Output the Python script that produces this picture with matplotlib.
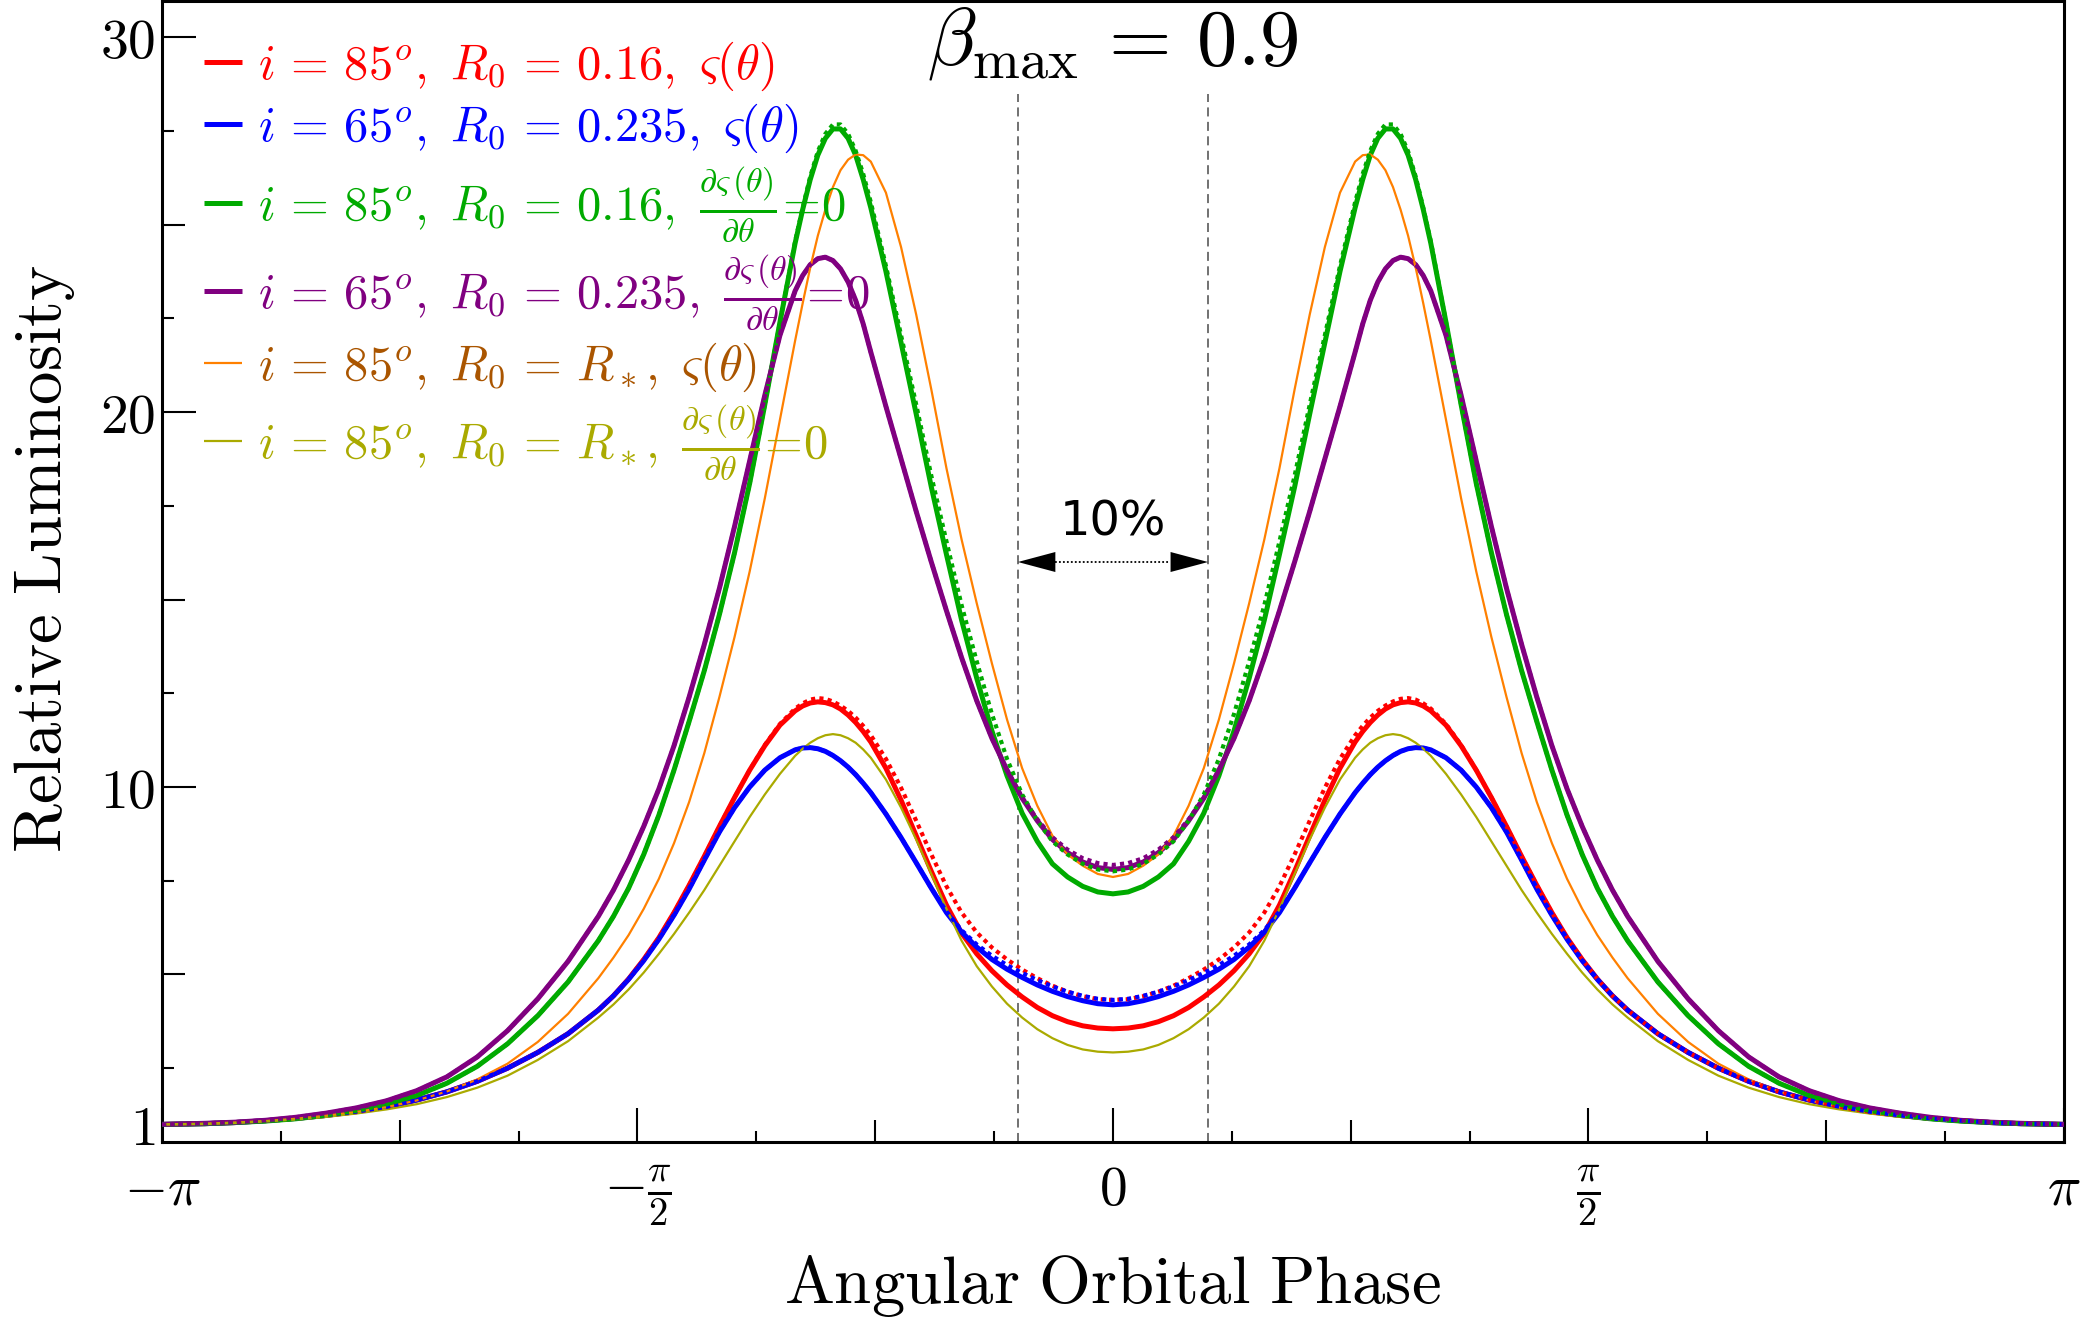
import numpy as np
import matplotlib.pyplot as plt

plt.rcParams['mathtext.fontset'] = 'cm'

# orbital phase (rad) for the right half; every curve is mirror symmetric about 0
phase = [0, 0.05, 0.1, 0.15, 0.2, 0.25, 0.3, 0.35, 0.4, 0.45, 0.5, 0.55, 0.6, 0.65,
         0.7, 0.75, 0.8, 0.825, 0.85, 0.875, 0.9, 0.925, 0.95, 0.975, 1.0, 1.025,
         1.05, 1.1, 1.15, 1.2, 1.25, 1.3, 1.35, 1.4, 1.45, 1.5, 1.55, 1.6, 1.65,
         1.7, 1.8, 1.9, 2.0, 2.1, 2.2, 2.3, 2.4, 2.5, 2.6, 2.7, 2.8, 2.9, 3.0, np.pi]

red = [3.55, 3.57, 3.63, 3.74, 3.9, 4.12, 4.4, 4.72, 5.1, 5.55, 6.1, 6.85, 7.75, 8.7,
       9.65, 10.5, 11.2, 11.48, 11.72, 11.92, 12.08, 12.19, 12.25, 12.27, 12.24, 12.16,
       12.03, 11.65, 11.1, 10.45, 9.72, 8.95, 8.15, 7.38, 6.65, 5.98, 5.4, 4.88, 4.43,
       4.05, 3.42, 2.92, 2.5, 2.15, 1.87, 1.65, 1.47, 1.34, 1.24, 1.16, 1.1, 1.05, 1.02, 1.0]
red_dot = [4.32, 4.34, 4.42, 4.54, 4.7, 4.9, 5.13, 5.4, 5.72, 6.12, 6.65, 7.35, 8.2, 9.1,
           9.98, 10.75, 11.38, 11.63, 11.85, 12.03, 12.17, 12.28, 12.35, 12.37, 12.33, 12.23,
           12.09, 11.68, 11.12, 10.45, 9.72, 8.95, 8.15, 7.38, 6.65, 5.98, 5.4, 4.88, 4.43,
           4.05, 3.42, 2.92, 2.5, 2.15, 1.87, 1.65, 1.47, 1.34, 1.24, 1.16, 1.1, 1.05, 1.02, 1.0]
blue = [4.19, 4.22, 4.3, 4.41, 4.55, 4.72, 4.92, 5.14, 5.4, 5.73, 6.13, 6.65, 7.3, 7.98,
        8.65, 9.28, 9.85, 10.1, 10.33, 10.53, 10.7, 10.84, 10.95, 11.02, 11.05, 11.04,
        10.99, 10.78, 10.45, 10.0, 9.45, 8.8, 8.05, 7.28, 6.58, 5.94, 5.37, 4.87, 4.43,
        4.05, 3.42, 2.92, 2.5, 2.15, 1.87, 1.65, 1.47, 1.34, 1.24, 1.16, 1.1, 1.05, 1.02, 1.0]
blue_dot = [4.32, 4.35, 4.43, 4.54, 4.68, 4.85, 5.04, 5.25, 5.5, 5.8, 6.18, 6.68, 7.3, 7.98,
            8.65, 9.28, 9.85, 10.1, 10.33, 10.53, 10.7, 10.84, 10.95, 11.02, 11.05, 11.04,
            10.99, 10.78, 10.45, 10.0, 9.45, 8.8, 8.05, 7.28, 6.58, 5.94, 5.37, 4.87, 4.43,
            4.05, 3.42, 2.92, 2.5, 2.15, 1.87, 1.65, 1.47, 1.34, 1.24, 1.16, 1.1, 1.05, 1.02, 1.0]
green = [7.15, 7.2, 7.35, 7.6, 7.95, 8.55, 9.3, 10.3, 11.5, 12.9, 14.45, 16.2, 18.0, 19.95,
         21.85, 23.75, 25.45, 26.2, 26.85, 27.3, 27.55, 27.55, 27.3, 26.85, 26.2, 25.4,
         24.5, 22.4, 20.2, 18.1, 16.25, 14.6, 13.1, 11.75, 10.45, 9.25, 8.2, 7.3, 6.55,
         5.9, 4.8, 3.9, 3.15, 2.55, 2.1, 1.77, 1.53, 1.36, 1.24, 1.15, 1.09, 1.05, 1.02, 1.0]
green_dot = [7.75, 7.8, 7.95, 8.2, 8.55, 9.1, 9.8, 10.75, 11.95, 13.35, 14.85, 16.55, 18.3, 20.2,
             22.05, 23.9, 25.6, 26.35, 26.97, 27.42, 27.67, 27.67, 27.42, 26.95, 26.28, 25.45,
             24.55, 22.4, 20.2, 18.1, 16.25, 14.6, 13.1, 11.75, 10.45, 9.25, 8.2, 7.3, 6.55,
             5.9, 4.8, 3.9, 3.15, 2.55, 2.1, 1.77, 1.53, 1.36, 1.24, 1.15, 1.09, 1.05, 1.02, 1.0]
purple = [7.8, 7.85, 8.0, 8.25, 8.6, 9.1, 9.7, 10.45, 11.3, 12.3, 13.45, 14.7, 16.0, 17.35,
          18.75, 20.15, 21.6, 22.35, 22.98, 23.47, 23.82, 24.04, 24.13, 24.09, 23.93, 23.64,
          23.23, 22.05, 20.45, 18.7, 16.95, 15.3, 13.8, 12.4, 11.1, 9.95, 8.95, 8.05, 7.25,
          6.55, 5.35, 4.35, 3.5, 2.8, 2.27, 1.9, 1.63, 1.44, 1.3, 1.19, 1.11, 1.06, 1.03, 1.0]
purple_dot = [7.92, 7.97, 8.1, 8.33, 8.66, 9.14, 9.72, 10.45, 11.3, 12.3, 13.45, 14.7, 16.0, 17.35,
              18.75, 20.15, 21.6, 22.35, 22.98, 23.47, 23.82, 24.04, 24.13, 24.09, 23.93, 23.64,
              23.23, 22.05, 20.45, 18.7, 16.95, 15.3, 13.8, 12.4, 11.1, 9.95, 8.95, 8.05, 7.25,
              6.55, 5.35, 4.35, 3.5, 2.8, 2.27, 1.9, 1.63, 1.44, 1.3, 1.19, 1.11, 1.06, 1.03, 1.0]
orange = [7.6, 7.68, 7.9, 8.2, 8.7, 9.5, 10.5, 11.8, 13.3, 14.9, 16.6, 18.5, 20.6, 22.6,
          24.4, 25.85, 26.68, 26.85, 26.87, 26.73, 26.45, 26.0, 25.4, 24.7, 23.85, 22.9,
          21.9, 19.8, 17.7, 15.75, 14.0, 12.4, 10.9, 9.6, 8.5, 7.55, 6.75, 6.05, 5.45,
          4.9, 3.95, 3.2, 2.62, 2.2, 1.88, 1.64, 1.46, 1.33, 1.23, 1.15, 1.09, 1.05, 1.02, 1.0]
olive = [2.92, 2.94, 3.0, 3.12, 3.3, 3.54, 3.85, 4.22, 4.68, 5.22, 5.9, 6.75, 7.68, 8.6,
         9.45, 10.2, 10.78, 11.0, 11.18, 11.3, 11.38, 11.41, 11.38, 11.3, 11.18, 11.02,
         10.83, 10.35, 9.8, 9.2, 8.55, 7.9, 7.25, 6.65, 6.08, 5.55, 5.05, 4.6, 4.2,
         3.85, 3.22, 2.72, 2.3, 1.98, 1.73, 1.54, 1.4, 1.29, 1.2, 1.13, 1.08, 1.04, 1.01, 1.0]

labels = [
    r'$i\,=\,85^o,\ R_0\,=\,0.16,\ \varsigma(\theta)$',
    r'$i\,=\,65^o,\ R_0\,=\,0.235,\ \varsigma(\theta)$',
    r'$i\,=\,85^o,\ R_0\,=\,0.16,\ \frac{\partial\varsigma\,(\theta)}{\partial\theta}\!=\!0$',
    r'$i\,=\,65^o,\ R_0\,=\,0.235,\ \frac{\partial\varsigma\,(\theta)}{\partial\theta}\!=\!0$',
    r'$i\,=\,85^o,\ R_0\,=\,R_*,\ \varsigma(\theta)$',
    r'$i\,=\,85^o,\ R_0\,=\,R_*,\ \frac{\partial\varsigma\,(\theta)}{\partial\theta}\!=\!0$',
]
label_colors = ['#ff0000', '#0000ff', '#00aa00', '#800080', '#aa5500', '#aaaa00']

window = 0.1 * np.pi      # +-10% of the orbit
arrow_y = 16.0


def mirror(vals):
    v = np.asarray(vals, dtype=float)
    return np.concatenate([v[:0:-1], v])


x = np.concatenate([-np.asarray(phase[:0:-1]), np.asarray(phase)])

fig = plt.figure(figsize=(20.84, 13.30), dpi=100)
ax = fig.add_axes([0.0777, 0.1414, 0.9127, 0.8575])

thick = 3.6
thin = 1.6
solid = [
    (red, '#ff0000', thick),
    (blue, '#0000ff', thick),
    (green, '#00aa00', thick),
    (purple, '#800080', thick),
    (orange, '#ff8000', thin),
    (olive, '#aaaa00', thin),
]
handles = []
for vals, c, lw in solid:
    h, = ax.plot(x, mirror(vals), color=c, lw=lw, solid_capstyle='butt',
                 solid_joinstyle='round', zorder=3)
    handles.append(h)

for vals, c in [(red_dot, '#ff0000'), (blue_dot, '#0000ff'),
                (green_dot, '#00aa00'), (purple_dot, '#800080')]:
    ax.plot(x, mirror(vals), color=c, lw=3.0, ls=(0, (1, 1)),
            dash_capstyle='butt', zorder=4)

ax.set_xlim(-np.pi, np.pi)
ax.set_ylim(0.533, 30.95)

# 10% window markers
ax.vlines([-window, window], 0.533, 28.48, colors='#666666',
          linestyles=(0, (5, 3)), lw=1.3, zorder=2)
for xt in (-window, window):
    ax.annotate('', xy=(xt, arrow_y), xytext=(0, arrow_y),
                arrowprops=dict(arrowstyle='-|>,head_length=1.35,head_width=0.36',
                                mutation_scale=20, lw=0, fc='k', ec='k',
                                shrinkA=0, shrinkB=0))
ax.plot([-0.19, 0.19], [arrow_y, arrow_y], color='k', lw=1.3, ls=(0, (1, 1.2)))
ax.text(0, 16.72, '10%', ha='center', va='baseline', fontsize=34.5,
        family='DejaVu Sans')

ax.text(0.5, 0.945, r'$\beta_{\mathrm{max}}\,=\,0.9$', transform=ax.transAxes,
        ha='center', va='baseline', fontsize=58)

# ticks
ax.set_xticks([-np.pi, -np.pi / 2, 0, np.pi / 2, np.pi])
ax.set_xticklabels([r'$-\pi$', r'$-\frac{\pi}{2}$', r'$0$', r'$\frac{\pi}{2}$', r'$\pi$'])
xminor_k = [k for k in range(-7, 8) if k % 4 != 0]
ax.set_xticks([k * np.pi / 8 for k in xminor_k], minor=True)
ax.set_yticks([1, 10, 20, 30])
ax.set_yticklabels([r'$1$', r'$10$', r'$20$', r'$30$'])
yminor = [2.5, 5, 7.5, 12.5, 15, 17.5, 22.5, 25, 27.5]
ax.set_yticks(yminor, minor=True)

ax.tick_params(which='both', direction='in', top=False, right=False, width=1.5)
ax.tick_params(which='major', length=24.5, labelsize=40)
ax.tick_params(axis='x', which='major', pad=15)
ax.tick_params(axis='y', which='major', pad=5)
for k, t in zip(xminor_k, ax.xaxis.get_minor_ticks()):
    t.tick1line.set_markersize(16 if k % 2 == 0 else 8)
for v, t in zip(yminor, ax.yaxis.get_minor_ticks()):
    t.tick1line.set_markersize(16.5 if v % 5 == 0 else 8.6)

for s in ax.spines.values():
    s.set_linewidth(2.2)

ax.set_xlabel(r'$\mathrm{Angular\ Orbital\ Phase}$', fontsize=48)
ax.set_ylabel(r'$\mathrm{Relative\ Luminosity}$', fontsize=48)
ax.xaxis.set_label_coords(0.5, -0.097)
ax.yaxis.set_label_coords(-0.0447, 0.511)

leg = ax.legend(handles, labels, loc='upper left', bbox_to_anchor=(0.0221, 0.966),
                frameon=False, fontsize=35, handlelength=0.78, handletextpad=0.33,
                labelspacing=0.18, borderpad=0, borderaxespad=0)
for txt, c in zip(leg.get_texts(), label_colors):
    txt.set_color(c)

fig.savefig('out.png', dpi=100)
